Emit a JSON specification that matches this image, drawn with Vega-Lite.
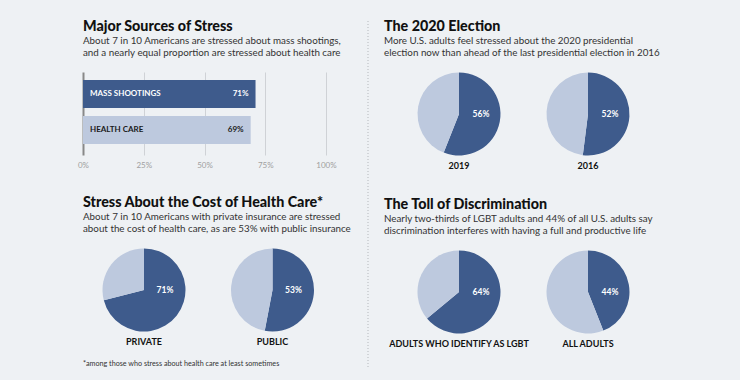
{
  "$schema": "https://vega.github.io/schema/vega-lite/v6.json",
  "background": "#eef1f4",
  "padding": {"left": 77, "top": 18, "right": 95, "bottom": 20},
  "config": {
    "font": "Lato",
    "view": {"stroke": null},
    "title": {"anchor": "start", "frame": "group", "font": "Lato", "fontSize": 14.3, "fontWeight": 900, "color": "#111111", "subtitleFont": "Lato", "subtitleFontSize": 9.8, "subtitleColor": "#333333", "subtitleLineHeight": 12, "subtitlePadding": 2, "offset": 14}
  },
  "datasets": {
    "sources": [
      {"topic": "MASS SHOOTINGS", "share": 0.71},
      {"topic": "HEALTH CARE", "share": 0.69}
    ],
    "election": [
      {"year": "2019", "part": "Stressed", "value": 0.56},
      {"year": "2019", "part": "Not stressed", "value": 0.44},
      {"year": "2016", "part": "Stressed", "value": 0.52},
      {"year": "2016", "part": "Not stressed", "value": 0.48}
    ],
    "insurance": [
      {"plan": "PRIVATE", "part": "Stressed", "value": 0.71},
      {"plan": "PRIVATE", "part": "Not stressed", "value": 0.29},
      {"plan": "PUBLIC", "part": "Stressed", "value": 0.53},
      {"plan": "PUBLIC", "part": "Not stressed", "value": 0.47}
    ],
    "discrimination": [
      {"group": "ADULTS WHO IDENTIFY AS LGBT", "part": "Stressed", "value": 0.64},
      {"group": "ADULTS WHO IDENTIFY AS LGBT", "part": "Not stressed", "value": 0.36},
      {"group": "ALL ADULTS", "part": "Stressed", "value": 0.44},
      {"group": "ALL ADULTS", "part": "Not stressed", "value": 0.56}
    ],
    "divider": [{"start": 0, "end": 1}]
  },
  "spacing": 15,
  "hconcat": [
    {
      "spacing": 26,
      "vconcat": [
        {
          "title": {"text": "Major Sources of Stress", "subtitle": ["About 7 in 10 Americans are stressed about mass shootings,", "and a nearly equal proportion are stressed about health care"]},
          "data": {"name": "sources"},
          "width": 243,
          "height": 83,
          "encoding": {
            "y": {"field": "topic", "type": "nominal", "sort": null, "axis": null, "scale": {"paddingInner": 0.222, "paddingOuter": 0.264, "align": 0.42}}
          },
          "layer": [
            {
              "mark": {"type": "bar"},
              "encoding": {
                "x": {"field": "share", "type": "quantitative", "scale": {"domain": [0, 1]},
                  "axis": {"values": [0, 0.25, 0.5, 0.75, 1], "format": ".0%", "domain": false, "ticks": false, "title": null, "labelColor": "#a0a0a0", "labelFontSize": 8, "labelPadding": 6, "labelFlush": false, "grid": true,
                    "gridColor": {"condition": {"test": "datum.value === 0", "value": "#888888"}, "value": "#cfd2d6"},
                    "gridWidth": {"condition": {"test": "datum.value === 0", "value": 2}, "value": 1}}},
                "color": {"field": "topic", "type": "nominal", "scale": {"domain": ["MASS SHOOTINGS", "HEALTH CARE"], "range": ["#3e5b8c", "#bdc9de"]}, "legend": null}
              }
            },
            {
              "mark": {"type": "text", "align": "left", "dx": 7, "fontSize": 8, "fontWeight": "bold"},
              "encoding": {
                "x": {"datum": 0, "type": "quantitative"},
                "text": {"field": "topic"},
                "color": {"condition": {"test": "datum.topic === 'MASS SHOOTINGS'", "value": "#ffffff"}, "value": "#1a1a1a"}
              }
            },
            {
              "mark": {"type": "text", "align": "right", "dx": -7, "fontSize": 8, "fontWeight": "bold"},
              "encoding": {
                "x": {"field": "share", "type": "quantitative"},
                "text": {"field": "share", "format": ".0%"},
                "color": {"condition": {"test": "datum.topic === 'MASS SHOOTINGS'", "value": "#ffffff"}, "value": "#1a1a1a"}
              }
            }
          ]
        },
        {
          "title": {"text": "Stress About the Cost of Health Care*", "subtitle": ["About 7 in 10 Americans with private insurance are stressed", "about the cost of health care, as are 53% with public insurance"]},
          "vconcat": [
            {
              "data": {"name": "insurance"},
              "title": {"text": "*among those who stress about health care at least sometimes", "orient": "bottom", "fontSize": 7.2, "fontWeight": "normal", "color": "#333333", "offset": 13},
              "spacing": 6.5,
              "facet": {"column": {"field": "plan", "type": "nominal", "sort": ["PRIVATE", "PUBLIC"], "header": {"title": null, "labelOrient": "bottom", "labelFont": "Lato", "labelFontSize": 9, "labelFontWeight": "bold", "labelColor": "#111111", "labelPadding": 6}}},
              "spec": {
                "width": 122,
                "height": 84,
                "layer": [
                  {
                    "mark": {"type": "arc", "outerRadius": 41.5},
                    "encoding": {
                      "theta": {"field": "value", "type": "quantitative", "stack": true},
                      "color": {"field": "part", "type": "nominal", "scale": {"domain": ["Stressed", "Not stressed"], "range": ["#3e5b8c", "#bdc9de"]}, "legend": null},
                      "order": {"field": "part", "sort": "descending"}
                    }
                  },
                  {
                    "transform": [{"filter": "datum.part === 'Stressed'"}],
                    "mark": {"type": "text", "dx": 21, "color": "#ffffff", "fontSize": 8.5, "fontWeight": "bold"},
                    "encoding": {"text": {"field": "value", "format": ".0%"}}
                  }
                ]
              }
            }
          ]
        }
      ]
    },
    {
      "data": {"name": "divider"},
      "width": 1,
      "height": 295,
      "mark": {"type": "rule", "color": "#b5b8bc", "strokeDash": [1, 2]},
      "encoding": {
        "x": {"datum": 0, "type": "quantitative", "axis": null, "scale": {"domain": [0, 1]}},
        "y": {"field": "start", "type": "quantitative", "axis": null, "scale": {"domain": [0, 0.8477], "nice": false, "zero": false}},
        "y2": {"field": "end"}
      }
    },
    {
      "spacing": 26,
      "vconcat": [
        {
          "title": {"text": "The 2020 Election", "dx": -25, "subtitle": ["More U.S. adults feel stressed about the 2020 presidential", "election now than ahead of the last presidential election in 2016"]},
          "data": {"name": "election"},
          "spacing": 29,
          "facet": {"column": {"field": "year", "type": "nominal", "sort": ["2019", "2016"], "header": {"title": null, "labelOrient": "bottom", "labelFont": "Lato", "labelFontSize": 9, "labelFontWeight": "bold", "labelColor": "#111111", "labelPadding": 6}}},
          "spec": {
            "width": 100,
            "height": 84,
            "layer": [
              {
                "mark": {"type": "arc", "outerRadius": 41.5},
                "encoding": {
                  "theta": {"field": "value", "type": "quantitative", "stack": true},
                  "color": {"field": "part", "type": "nominal", "scale": {"domain": ["Stressed", "Not stressed"], "range": ["#3e5b8c", "#bdc9de"]}, "legend": null},
                  "order": {"field": "part", "sort": "descending"}
                }
              },
              {
                "transform": [{"filter": "datum.part === 'Stressed'"}],
                "mark": {"type": "text", "dx": 22, "color": "#ffffff", "fontSize": 8.5, "fontWeight": "bold"},
                "encoding": {"text": {"field": "value", "format": ".0%"}}
              }
            ]
          }
        },
        {
          "title": {"text": "The Toll of Discrimination", "dx": -25, "subtitle": ["Nearly two-thirds of LGBT adults and 44% of all U.S. adults say", "discrimination interferes with having a full and productive life"]},
          "data": {"name": "discrimination"},
          "spacing": 29,
          "facet": {"column": {"field": "group", "type": "nominal", "sort": ["ADULTS WHO IDENTIFY AS LGBT", "ALL ADULTS"], "header": {"title": null, "labelOrient": "bottom", "labelFont": "Lato", "labelFontSize": 9, "labelFontWeight": "bold", "labelColor": "#111111", "labelPadding": 6}}},
          "spec": {
            "width": 100,
            "height": 84,
            "layer": [
              {
                "mark": {"type": "arc", "outerRadius": 41.5},
                "encoding": {
                  "theta": {"field": "value", "type": "quantitative", "stack": true},
                  "color": {"field": "part", "type": "nominal", "scale": {"domain": ["Stressed", "Not stressed"], "range": ["#3e5b8c", "#bdc9de"]}, "legend": null},
                  "order": {"field": "part", "sort": "descending"}
                }
              },
              {
                "transform": [{"filter": "datum.part === 'Stressed'"}],
                "mark": {"type": "text", "dx": 22, "color": "#ffffff", "fontSize": 8.5, "fontWeight": "bold"},
                "encoding": {"text": {"field": "value", "format": ".0%"}}
              }
            ]
          }
        }
      ]
    }
  ]
}
